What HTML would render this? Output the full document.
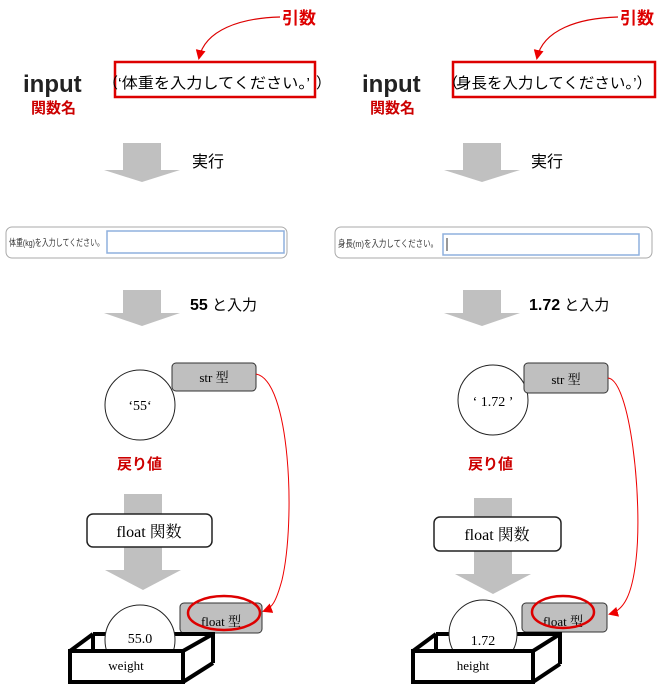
<!DOCTYPE html>
<html><head><meta charset="utf-8"><style>
html,body{margin:0;padding:0;background:#fff;}
svg{display:block;font-family:"Liberation Serif","Noto Serif CJK SC","Noto Sans CJK JP",serif;}
.s{font-family:"Liberation Sans","Noto Sans CJK JP",sans-serif;}
</style></head><body>
<svg width="664" height="690" viewBox="0 0 664 690" xmlns="http://www.w3.org/2000/svg">
<defs>
<marker id="ar" markerWidth="10" markerHeight="10" refX="8" refY="5" orient="auto" markerUnits="userSpaceOnUse"><path d="M0,0 L10,5 L0,10 z" fill="#e00"/></marker>
</defs>
<!-- ===== LEFT ===== -->
<text x="282" y="24" class="s" font-size="17" font-weight="bold" fill="#d00">引数</text>
<path d="M280,17 C240,18 205,30 199,58" fill="none" stroke="#d00" stroke-width="1.2" marker-end="url(#ar)"/>
<rect x="115" y="62" width="200" height="35" fill="none" stroke="#d00" stroke-width="2.5"/>
<text x="103" y="88" class="s" font-size="15">（</text>
<text x="118" y="88" class="s" font-size="15" textLength="192" lengthAdjust="spacingAndGlyphs">‘体重を入力してください。’</text>
<text x="316" y="88" class="s" font-size="15">）</text>
<text x="23" y="92" class="s" font-size="24" font-weight="bold" fill="#222">input</text>
<text x="31" y="113" class="s" font-size="15" font-weight="bold" fill="#c00">関数名</text>
<path d="M123,143 H161 V170 H180 L142,182 L104,170 H123 Z" fill="#c0c0c0"/>
<text x="192" y="167" class="s" font-size="16">実行</text>
<rect x="6" y="227" width="281" height="31" rx="6" fill="#fff" stroke="#aaa"/>
<rect x="107" y="231" width="177" height="22" fill="#fff" stroke="#8fb0dd" stroke-width="1.5"/>
<text x="9" y="246" class="s" font-size="9.5" fill="#333" textLength="95" lengthAdjust="spacingAndGlyphs">体重(kg)を入力してください。</text>
<path d="M123,290 H161 V313 H180 L142,326 L104,313 H123 Z" fill="#c0c0c0"/>
<text x="190" y="310" class="s" font-size="15"><tspan font-weight="bold" font-size="16">55</tspan> と入力</text>
<circle cx="140" cy="405" r="35" fill="#fff" stroke="#222"/>
<text x="140" y="410" font-size="14" text-anchor="middle">‘55‘</text>
<rect x="172" y="363" width="84" height="28" rx="4" fill="#bfbfbf" stroke="#333"/>
<text x="214" y="382" font-size="13" text-anchor="middle">str 型</text>
<path d="M256,374 C290,380 296,520 282,580 C276,602 272,608 264,611" fill="none" stroke="#e00" stroke-width="1" marker-end="url(#ar)"/>
<text x="117" y="469" class="s" font-size="15" font-weight="bold" fill="#c00">戻り値</text>
<path d="M124,494 H162 V570 H181 L143,590 L105,570 H124 Z" fill="#c0c0c0"/>
<rect x="87" y="514" width="125" height="33" rx="6" fill="#fff" stroke="#222" stroke-width="1.5"/>
<text x="149" y="537" font-size="16" text-anchor="middle">float 関数</text>
<rect x="180" y="603" width="82" height="30" rx="4" fill="#bfbfbf" stroke="#333"/>
<text x="221" y="626" font-size="13" text-anchor="middle">float 型</text>
<ellipse cx="224" cy="613" rx="36" ry="17" fill="none" stroke="#d00" stroke-width="2.5"/>
<path d="M93,634 H213 V663" fill="none" stroke="#000" stroke-width="4"/>
<line x1="93" y1="634" x2="93" y2="651" stroke="#000" stroke-width="4"/>
<circle cx="140" cy="640" r="35" fill="#fff" stroke="#222"/>
<text x="140" y="643" font-size="14" text-anchor="middle">55.0</text>
<path d="M70,651 L93,634 M183,651 L213,634 M183,682 L213,663" stroke="#000" stroke-width="4" fill="none"/>
<rect x="70" y="651" width="113" height="31" fill="#fff" stroke="#000" stroke-width="4"/>
<text x="126" y="670" font-size="13" text-anchor="middle">weight</text>

<!-- ===== RIGHT ===== -->
<text x="620" y="24" class="s" font-size="17" font-weight="bold" fill="#d00">引数</text>
<path d="M618,17 C578,18 543,30 537,58" fill="none" stroke="#d00" stroke-width="1.2" marker-end="url(#ar)"/>
<rect x="453" y="62" width="202" height="35" fill="none" stroke="#d00" stroke-width="2.5"/>
<text x="443" y="88" class="s" font-size="15">（</text>
<text x="456" y="88" class="s" font-size="15" textLength="196" lengthAdjust="spacingAndGlyphs">身長を入力してください。’）</text>
<text x="362" y="92" class="s" font-size="24" font-weight="bold" fill="#222">input</text>
<text x="370" y="113" class="s" font-size="15" font-weight="bold" fill="#c00">関数名</text>
<path d="M463,143 H501 V170 H520 L482,182 L444,170 H463 Z" fill="#c0c0c0"/>
<text x="531" y="167" class="s" font-size="16">実行</text>
<rect x="335" y="227" width="317" height="31" rx="6" fill="#fff" stroke="#aaa"/>
<rect x="443" y="234" width="196" height="21" fill="#fff" stroke="#8fb0dd" stroke-width="1.5"/>
<line x1="447" y1="238" x2="447" y2="251" stroke="#333"/>
<text x="338" y="247" class="s" font-size="9.5" fill="#333" textLength="100" lengthAdjust="spacingAndGlyphs">身長(m)を入力してください。</text>
<path d="M463,290 H501 V313 H520 L482,326 L444,313 H463 Z" fill="#c0c0c0"/>
<text x="529" y="310" class="s" font-size="15"><tspan font-weight="bold" font-size="16">1.72</tspan> と入力</text>
<circle cx="493" cy="400" r="35" fill="#fff" stroke="#222"/>
<text x="493" y="406" font-size="14" text-anchor="middle">‘ 1.72 ’</text>
<rect x="524" y="363" width="84" height="30" rx="4" fill="#bfbfbf" stroke="#333"/>
<text x="566" y="384" font-size="13" text-anchor="middle">str 型</text>
<path d="M608,378 C630,380 643,500 636,560 C632,595 624,610 610,614" fill="none" stroke="#e00" stroke-width="1" marker-end="url(#ar)"/>
<text x="468" y="469" class="s" font-size="15" font-weight="bold" fill="#c00">戻り値</text>
<path d="M474,498 H512 V574 H531 L493,594 L455,574 H474 Z" fill="#c0c0c0"/>
<rect x="434" y="517" width="127" height="34" rx="6" fill="#fff" stroke="#222" stroke-width="1.5"/>
<text x="497" y="540" font-size="16" text-anchor="middle">float 関数</text>
<rect x="522" y="603" width="85" height="29" rx="4" fill="#bfbfbf" stroke="#333"/>
<text x="563" y="626" font-size="13" text-anchor="middle">float 型</text>
<ellipse cx="563" cy="612" rx="31" ry="16" fill="none" stroke="#d00" stroke-width="2.5"/>
<path d="M436,634 H560 V664" fill="none" stroke="#000" stroke-width="4"/>
<line x1="436" y1="634" x2="436" y2="651" stroke="#000" stroke-width="4"/>
<circle cx="483" cy="634" r="34" fill="#fff" stroke="#222"/>
<text x="483" y="645" font-size="14" text-anchor="middle">1.72</text>
<path d="M413,651 L436,634 M533,651 L560,634 M533,682 L560,664" stroke="#000" stroke-width="4" fill="none"/>
<rect x="413" y="651" width="120" height="31" fill="#fff" stroke="#000" stroke-width="4"/>
<text x="473" y="670" font-size="13" text-anchor="middle">height</text>
</svg>
</body></html>
